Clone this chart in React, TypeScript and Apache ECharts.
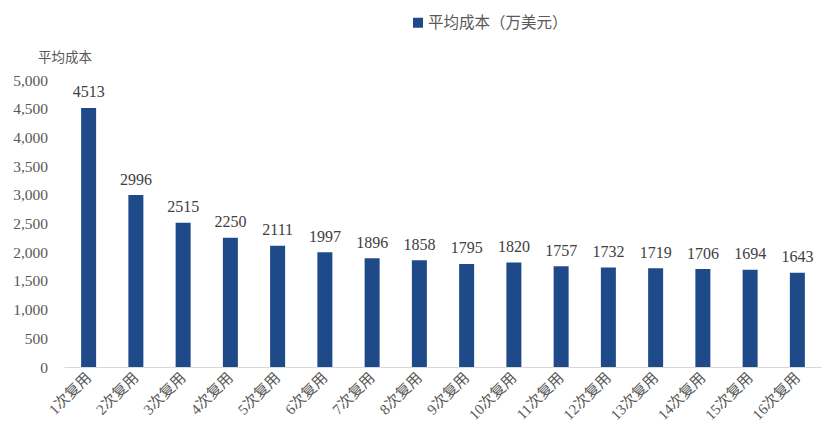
import React, { useEffect, useRef } from "react";
import * as echarts from "echarts";

const categories = [
  "1次复用", "2次复用", "3次复用", "4次复用", "5次复用", "6次复用", "7次复用", "8次复用",
  "9次复用", "10次复用", "11次复用", "12次复用", "13次复用", "14次复用", "15次复用", "16次复用",
];
const avgCost = [4513, 2996, 2515, 2250, 2111, 1997, 1896, 1858, 1795, 1820, 1757, 1732, 1719, 1706, 1694, 1643];
const seriesName = "平均成本（万美元）";
const yAxisName = "平均成本";

const serif = "'Liberation Serif', 'Times New Roman', 'Noto Sans CJK SC', serif";

export default function App() {
  const ref = useRef<HTMLDivElement>(null);
  useEffect(() => {
    document.body.style.margin = "0";
    const chart = echarts.init(ref.current!, null, { renderer: "svg" });
    chart.setOption({
      animation: false,
      backgroundColor: "#ffffff",
      legend: {
        top: 10,
        left: 408,
        itemWidth: 10,
        itemHeight: 10,
        itemGap: 4,
        icon: "rect",
        textStyle: { color: "#595959", fontSize: 15.5, fontFamily: serif },
        data: [seriesName],
      },
      grid: { left: 65, right: 10, top: 80, bottom: 78 },
      xAxis: {
        type: "category",
        data: categories,
        axisLine: { lineStyle: { color: "#D9D9D9", width: 1 } },
        axisTick: { show: false },
        axisLabel: {
          interval: 0,
          rotate: 45,
          color: "#595959",
          fontSize: 15,
          fontFamily: serif,
          margin: 8,
        },
      },
      yAxis: {
        type: "value",
        min: 0,
        max: 5000,
        interval: 500,
        name: yAxisName,
        nameLocation: "end",
        nameGap: 16,
        nameTextStyle: { color: "#595959", fontSize: 13.5, fontFamily: serif, align: "center" },
        axisLine: { show: false },
        axisTick: { show: false },
        splitLine: { show: false },
        axisLabel: {
          color: "#595959",
          fontSize: 15.5,
          fontFamily: serif,
          margin: 17,
          formatter: (v: number) => v.toLocaleString("en-US"),
        },
      },
      series: [
        {
          name: seriesName,
          type: "bar",
          data: avgCost,
          barWidth: 15,
          itemStyle: { color: "#1F4A8A" },
          label: {
            show: true,
            position: "top",
            distance: 8,
            color: "#404040",
            fontSize: 16,
            fontFamily: serif,
          },
        },
      ],
    });
    return () => chart.dispose();
  }, []);
  return <div ref={ref} style={{ width: 831, height: 445 }} />;
}
